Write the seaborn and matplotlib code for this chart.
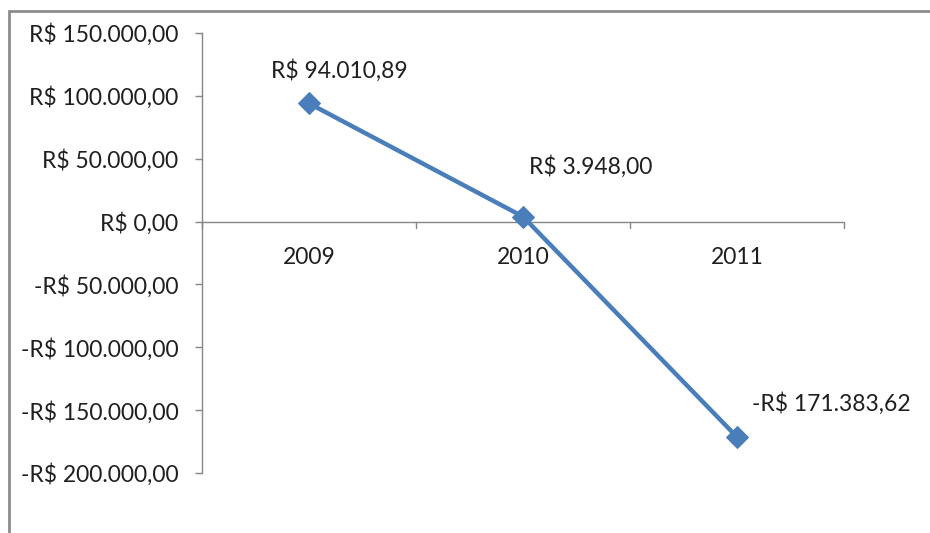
import matplotlib
matplotlib.use("Agg")
import matplotlib.pyplot as plt
import seaborn as sns
import pandas as pd
from matplotlib.patches import Rectangle
from matplotlib.ticker import FuncFormatter

years = ["2009", "2010", "2011"]
values = [94010.89, 3948.00, -171383.62]
y_ticks = [150000, 100000, 50000, 0, -50000, -100000, -150000, -200000]


def brl(v):
    s = f"{abs(v):,.2f}".replace(",", "X").replace(".", ",").replace("X", ".")
    return ("-R$ " if v < 0 else "R$ ") + s


sns.set_theme(style="white")
plt.rcParams["font.family"] = ["Lato", "DejaVu Sans"]

df = pd.DataFrame({"pos": range(len(years)), "year": years, "value": values})

fig = plt.figure(figsize=(9.3, 5.33), dpi=100)
ax = fig.add_axes([202 / 930, 1 - 473 / 533, (844 - 202) / 930, (473 - 33) / 533])

line_color = "#4A7EBB"
sns.lineplot(data=df, x="pos", y="value", ax=ax, color=line_color, linewidth=3.2,
             marker="D", markersize=11.5, markeredgecolor=line_color, markerfacecolor=line_color)

ax.set_xlim(-0.5, len(years) - 0.5)
ax.set_ylim(min(y_ticks), max(y_ticks))
ax.set_yticks(y_ticks)
ax.yaxis.set_major_formatter(FuncFormatter(lambda v, p: brl(v)))
ax.set_xticks([])
ax.set_xlabel("")
ax.set_ylabel("")

for side in ["top", "right", "bottom"]:
    ax.spines[side].set_visible(False)
ax.spines["left"].set_color("#868686")
ax.spines["left"].set_linewidth(1)

fs = 16.5
tc = "#1f1f1f"

# x axis at y=0 with category-boundary ticks
ax.axhline(0, color="#868686", linewidth=1, zorder=1)
for b in [i - 0.5 for i in range(len(years) + 1)]:
    ax.plot([b, b], [0, -5500], color="#868686", linewidth=1, zorder=1, clip_on=False)
for i, y in enumerate(years):
    ax.text(i, -28500, y, ha="center", va="center", fontsize=fs, color=tc)

ax.tick_params(axis="y", which="major", left=True, length=5, width=1, color="#868686",
               labelsize=fs, labelcolor=tc, pad=12)

# data labels
offsets = [(22, 24), (49, 36), (68, 24)]
for i, (v, off) in enumerate(zip(values, offsets)):
    ax.annotate(brl(v), xy=(i, v), xytext=off, textcoords="offset points",
                ha="center", va="center", fontsize=fs, color=tc)

# chart frame
fig.patches.append(Rectangle((9 / 930, -0.1), 1.2, 1 - 11 / 533 + 0.1,
                             transform=fig.transFigure, fill=False,
                             edgecolor="#8c8c8c", linewidth=2))

fig.savefig("out.png", dpi=100)
